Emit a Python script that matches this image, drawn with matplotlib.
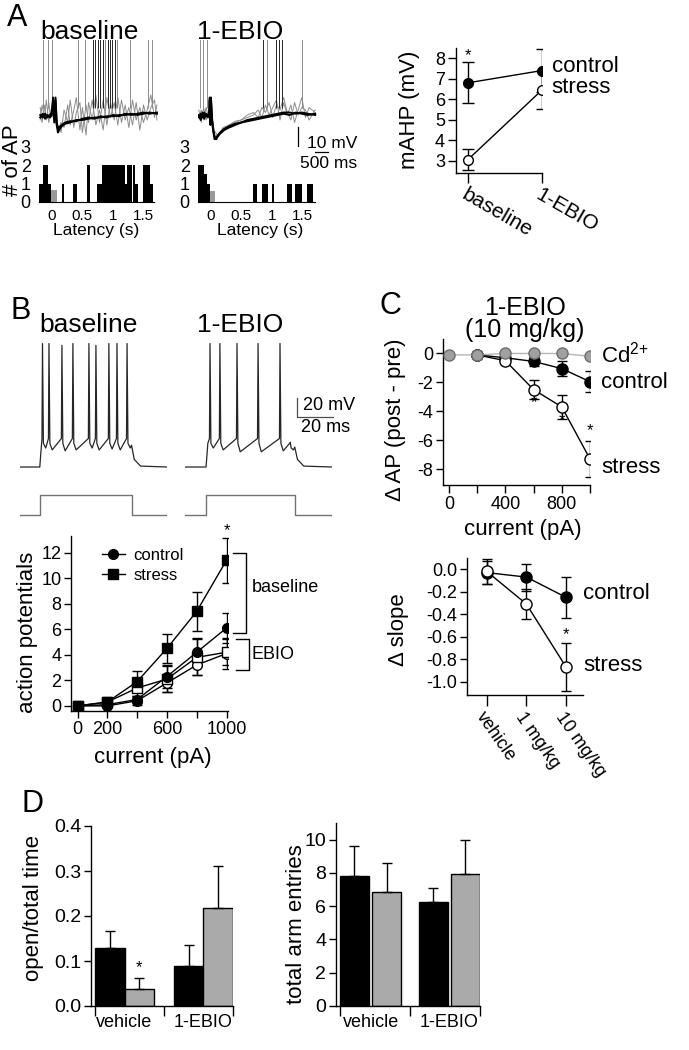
# Stress / 1-EBIO figure: firing, mAHP, slope and maze behaviour

import matplotlib
matplotlib.use('Agg')
import matplotlib.pyplot as plt
from matplotlib.lines import Line2D

plt.rcParams['font.family'] = ['Liberation Sans', 'DejaVu Sans']
plt.rcParams['axes.unicode_minus'] = False
plt.rcParams['mathtext.fontset'] = 'custom'
plt.rcParams['mathtext.rm'] = 'Liberation Sans'
plt.rcParams['axes.linewidth'] = 1.0

# ---------------- data ----------------
# A: AP latency histograms (bin edges in s, # of AP)
hist_base_edges = [-0.21, -0.14, -0.06, -0.01, 0.17, 0.20, 0.35, 0.42, 0.58, 0.63, 0.74, 0.82,
                   1.00, 1.01, 1.20, 1.23, 1.32, 1.33, 1.37, 1.41, 1.50, 1.61, 1.66]
hist_base_counts = [1, 2, 1, 0, 1, 0, 1, 0, 2, 0, 1, 2, 0, 2, 1, 2, 0, 2, 1, 0, 2, 1]
hist_base_stim = ([-0.01, 0.09], [0.65])
hist_ebio_edges = [-0.21, -0.12, -0.07, -0.02, 0.69, 0.76, 0.84, 0.94, 1.00, 1.04, 1.25, 1.33,
                   1.38, 1.50, 1.58, 1.68]
hist_ebio_counts = [2, 1.5, 1, 0, 1, 0, 1, 0, 1, 0, 1, 0, 1, 0, 1]
hist_ebio_stim = ([-0.02, 0.07], [0.6])

# A: example sweeps (time s, mV from rest)
a_base_k_t = [-0.19, -0.15, -0.11, -0.07, -0.03, 0.0, 0.02, 0.04, 0.06, 0.08, 0.10, 0.12, 0.16, 0.22,
              0.30, 0.40, 0.50, 0.60, 0.70, 0.80, 0.90, 1.00, 1.10, 1.20, 1.30, 1.40, 1.50, 1.60, 1.72]
a_base_k1_v = [-1, 0.5, -1.5, 0, -1, 0, 7, -3, 7, -4, -7, -6, -4.5, -3.5, -3, -2, -2, -1.5, -1, -1,
               -0.5, -0.5, 0, 0, 0.5, 0, 0.5, 1, 0.5]
a_base_k2_v = [0, -1, 0.5, -1, 0, 1, 6, -2, 6, -3, -5.5, -5, -4, -3, -2.5, -2.5, -1.5, -1, -1.5, -0.5,
               -1, 0, -0.5, 0.5, 0, 0.5, 1, 0.5, 1]
a_base_g_t = [-0.19, -0.16, -0.12, -0.09, -0.05, -0.02, 0.0, 0.1, 0.15, 0.2, 0.26, 0.3, 0.36, 0.4,
              0.46, 0.5, 0.56, 0.6, 0.66, 0.72, 0.78, 0.84, 0.9, 0.96, 1.02, 1.08, 1.14, 1.2, 1.26,
              1.32, 1.38, 1.44, 1.5, 1.56, 1.62, 1.68, 1.72]
a_base_g1_v = [3, -3, 4, -2, 5, -1, 2, -6, -3, -5, 4, -4, 2, 7, -6, 3, -8, 5, -2, 8, -3, 6, -4, 5,
               -2, 7, -3, 4, -5, 6, -2, 3, -3, 2, 8, -1, 4]
a_base_g2_v = [-2, 4, -1, 6, -3, 2, 0, -4, -7, 2, -3, 6, -5, 1, 5, -7, 4, -3, 6, -4, 2, -6, 7, -1,
               5, -4, 6, -2, 3, -4, 5, -6, 4, -2, 3, 6, -2]
a_base_spikes_gray = [-0.14, -0.06, 0.0, 0.43, 0.55, 0.87, 1.07, 1.28, 1.58, 1.64]
a_base_spikes_black = [0.68, 0.71, 0.76, 0.79, 0.83, 0.92, 0.96, 0.99, 1.04]

a_ebio_k_t = [-0.20, -0.17, -0.14, -0.11, -0.08, -0.05, -0.03, -0.02, -0.01, 0.0, 0.02, 0.04, 0.07,
              0.10, 0.15, 0.22, 0.30, 0.40, 0.50, 0.60, 0.70, 0.80, 0.90, 1.00, 1.10, 1.20, 1.30,
              1.40, 1.50, 1.60, 1.72]
a_ebio_k1_v = [0, -2, 1, -1.5, 0.5, -1, 0, 7, -4, 6, -3, -7, -11, -9, -7.5, -6, -5, -4, -3, -2.5,
               -2, -1.5, -1, -0.5, 0, 0.5, 0, 1, 0.5, 0, 0.5]
a_ebio_k2_v = [-1, 0.5, -1, 1, -0.5, 0, 1, 6, -3, 7, -2, -6, -10, -8.5, -7, -5.5, -4.5, -3.5, -3, -2,
               -1.5, -1, -0.5, 0, 0.5, 1, 1, 0.5, 1, 0.5, 0]
a_ebio_g_t = [-0.20, -0.16, -0.12, -0.08, -0.04, 0.0, 0.05, 0.1, 0.2, 0.3, 0.4, 0.5, 0.6, 0.7, 0.78,
              0.84, 0.9, 0.96, 1.02, 1.08, 1.14, 1.2, 1.26, 1.32, 1.38, 1.44, 1.5, 1.56, 1.62, 1.72]
a_ebio_g1_v = [2, -3, 3, -2, 1, 4, -8, -9, -5, -4, -3, -2, -1, 0, 2, -1, 4, 0, 3, 6, -2, 5, 0, 4,
               -3, 2, 7, -1, 3, 1]
a_ebio_g2_v = [-1, 2, -2, 3, -1, 2, -6, -8, -6, -4, -2.5, -2, 0, 1, -1, 3, 1, 5, -1, 4, 2, 7, 1,
               -2, 5, 0, 3, 2, -2, 2]
a_ebio_spikes_gray = [-0.18, -0.13, -0.07, 0.92, 1.5]
a_ebio_spikes_black = [0.86, 1.07, 1.12, 1.17]

# A: mAHP
mahp_conds = ['baseline', '1-EBIO']
mahp_ctrl = [6.8, 7.4]
mahp_ctrl_err = [1.0, 1.05]
mahp_stress = [3.05, 6.45]
mahp_stress_err = [0.5, 0.95]

# B: current-step traces (ms, mV)
b_base_spikes = [12.5, 16.1, 23.3, 29.4, 38.3, 42.2, 49.4, 53.9, 59.5]
b_base_peaks = [60, 60, 58, 60, 60, 58, 60, 60, 60]
b_base_troughs = [-50, -52, -53, -52, -50, -52, -51, -52, -50]
b_ebio_spikes = [13.9, 19.4, 28.9, 40.6, 52.8, 58.5]
b_ebio_peaks = [60, 60, 60, 60, 60, -44]
b_ebio_troughs = [-50, -52, -54, -54, -53, -52]
b_base_step = (11.0, 62.0)
b_ebio_step = (11.7, 61.0)
b_trace_end = 81.7

# B: action potentials vs current
currents = [0, 200, 400, 600, 800, 1000]
ap_ctrl_base = [0, 0.1, 0.5, 2.3, 4.2, 6.1]
ap_ctrl_base_err = [0, 0.1, 0.3, 0.9, 1.1, 1.15]
ap_str_base = [0, 0.3, 1.9, 4.5, 7.4, 11.4]
ap_str_base_err = [0, 0.2, 0.8, 1.15, 1.55, 1.75]
ap_ctrl_ebio = [0, 0.0, 0.4, 1.8, 3.2, 4.1]
ap_ctrl_ebio_err = [0, 0.1, 0.3, 0.7, 0.8, 1.2]
ap_str_ebio = [0, 0.3, 1.4, 2.1, 3.8, 4.2]
ap_str_ebio_err = [0, 0.2, 0.6, 1.0, 1.4, 1.0]

# C: change in AP after 1-EBIO
cd_currents = [0, 200, 400, 600, 800, 1000]
dap_cd = [-0.1, -0.1, 0.0, 0.0, 0.0, -0.2]
dap_currents = [200, 400, 600, 800, 1000]
dap_ctrl = [-0.1, -0.3, -0.55, -1.05, -1.95]
dap_ctrl_err = [0, 0.1, 0.3, 0.5, 0.75]
dap_stress = [-0.1, -0.5, -2.5, -3.7, -7.3]
dap_stress_err = [0, 0.15, 0.65, 0.85, 1.25]

# C: change in slope vs dose
doses = ['vehicle', '1 mg/kg', '10 mg/kg']
slope_ctrl = [-0.03, -0.07, -0.25]
slope_ctrl_err = [0.1, 0.12, 0.18]
slope_stress = [-0.02, -0.31, -0.87]
slope_stress_err = [0.11, 0.13, 0.21]

# D: elevated plus maze
groups = ['vehicle', '1-EBIO']
time_ctrl = [0.129, 0.089]
time_ctrl_err = [0.037, 0.047]
time_stress = [0.037, 0.218]
time_stress_err = [0.025, 0.093]
entries_ctrl = [7.83, 6.24]
entries_ctrl_err = [1.77, 0.83]
entries_stress = [6.85, 7.93]
entries_stress_err = [1.72, 2.07]

# ---------------- helpers ----------------
W, H = 689, 1050
fig = plt.figure(figsize=(W / 100, H / 100), dpi=100)


def add_box(x0, y0, x1, y1):
    return fig.add_axes([x0 / W, 1 - y1 / H, (x1 - x0) / W, (y1 - y0) / H])


def ftext(x, y, s, size=16, **kw):
    kw.setdefault('ha', 'center')
    kw.setdefault('va', 'center')
    fig.text(x / W, 1 - y / H, s, fontsize=size, **kw)


def style(ax, size=13):
    for side in ['top', 'right']:
        ax.spines[side].set_visible(False)
    ax.tick_params(direction='out', length=5, width=1, labelsize=size, pad=2)


def step_trace(spikes, peaks, troughs, step, t_end, rest=-70, plateau=-45, thr=-40):
    onset, offset = step
    t = [0, onset, onset + 1.0]
    v = [rest, rest, plateau]
    for ts, pk, tr in zip(spikes, peaks, troughs):
        th = min(thr, pk - 1)
        t += [ts - 0.3, ts, ts + 0.5, ts + 1.8]
        v += [th, pk, th - 5, tr]
    t += [offset, offset + 1.5, offset + 5, t_end]
    v += [v[-1] + 3, rest + 8, rest + 1, rest]
    return t, v


# ---------------- panel A ----------------
ftext(17, 18, 'A', size=22)
ftext(90, 32, 'baseline', size=19)
ftext(240, 32, '1-EBIO', size=19)

for (x0, x1, xl, kt, kv, gt, gv, sg, sk) in [
        (39, 160, (-0.21, 1.77), a_base_k_t, [a_base_k1_v, a_base_k2_v], a_base_g_t,
         [a_base_g1_v, a_base_g2_v], a_base_spikes_gray, a_base_spikes_black),
        (198, 320, (-0.214, 1.80), a_ebio_k_t, [a_ebio_k1_v, a_ebio_k2_v], a_ebio_g_t,
         [a_ebio_g1_v, a_ebio_g2_v], a_ebio_spikes_gray, a_ebio_spikes_black)]:
    ax = add_box(x0, 40, x1, 140)
    ax.set_xlim(*xl)
    ax.set_ylim(-10, 30)
    ax.axis('off')
    for v in gv:
        ax.plot(gt, v, color='0.55', lw=0.7)
    ax.vlines(sg, 3, 35, color='0.55', lw=0.7)
    for v in kv:
        ax.plot(kt, v, color='k', lw=1.4)
    ax.vlines(sk, 3, 35, color='0.15', lw=0.7)
    if x0 > 100:
        ax.plot([1.43, 1.43, 1.93], [-4.8, -14.8, -14.8], color='k', lw=0.9, clip_on=False)

ftext(307, 144, '10 mV', size=12.5, ha='left')
ftext(300, 164, '500 ms', size=12.5, ha='left')

for (x0, x1, xl, edges, counts, stim, lab_x) in [
        (39, 154, (-0.21, 1.675), hist_base_edges, hist_base_counts, hist_base_stim, 96),
        (198, 315, (-0.214, 1.71), hist_ebio_edges, hist_ebio_counts, hist_ebio_stim, 260)]:
    ax = add_box(x0, 147, x1, 202)
    ax.stairs(counts, edges, fill=True, color='k')
    ax.stairs(stim[1], stim[0], fill=True, color='#999999')
    ax.set_xlim(*xl)
    ax.set_ylim(0, 3)
    for side in ['top', 'right', 'left']:
        ax.spines[side].set_visible(False)
    ax.spines['bottom'].set_linewidth(0.8)
    ax.set_yticks([0, 1, 2, 3])
    ax.set_xticks([0, 0.5, 1, 1.5])
    ax.set_xticklabels(['0', '0.5', '1', '1.5'])
    ax.tick_params(axis='y', length=0, labelsize=13, pad=6)
    ax.tick_params(axis='x', length=0, labelsize=11, pad=5)
    ftext(lab_x, 230, 'Latency (s)', size=12.5)
ftext(12, 160, '# of AP', size=16, rotation=90)

ax = add_box(456, 48, 542, 173)
style(ax)
x_cond = list(range(len(mahp_conds)))
ax.errorbar(x_cond, mahp_ctrl, yerr=mahp_ctrl_err, fmt='-o', color='k', mfc='k', mec='k',
            ms=7, lw=1, elinewidth=1, capsize=4)
ax.errorbar(x_cond, mahp_stress, yerr=mahp_stress_err, fmt='-o', color='k', mfc='white', mec='k',
            ms=7, lw=1, elinewidth=1, capsize=4)
ax.set_xlim(-0.16, 1.0)
ax.set_ylim(2.4, 8.5)
ax.set_yticks(range(3, 9))
ax.set_xticks(x_cond)
ax.set_xticklabels(mahp_conds, rotation=-30, ha='left', va='top', rotation_mode='anchor')
ax.tick_params(axis='x', length=7, labelsize=15)
ax.tick_params(axis='y', length=6)
ax.text(0, 8.15, '*', ha='center', va='center', fontsize=12)
ax.text(1.13, 7.58, 'control', ha='left', va='center', fontsize=16)
ax.text(1.13, 6.56, 'stress', ha='left', va='center', fontsize=16)
ftext(410, 110, 'mAHP (mV)', size=16, rotation=90)

# ---------------- panel B ----------------
ftext(21, 311, 'B', size=22)
ftext(89, 325, 'baseline', size=19)
ftext(240, 325, '1-EBIO', size=19)

for (x0, spikes, peaks, troughs, step) in [
        (20, b_base_spikes, b_base_peaks, b_base_troughs, b_base_step),
        (185, b_ebio_spikes, b_ebio_peaks, b_ebio_troughs, b_ebio_step)]:
    ax = add_box(x0, 330, x0 + 147, 475)
    t, v = step_trace(spikes, peaks, troughs, step, b_trace_end)
    ax.plot(t, v, color='0.15', lw=0.9)
    ax.set_xlim(0, b_trace_end)
    ax.set_ylim(-78.4, 74.2)
    ax.axis('off')
    if x0 > 100:
        ax.plot([62.2, 62.2, 82.2], [2.6, -17.4, -17.4], color='0.3', lw=0.9, clip_on=False)
    ax2 = add_box(x0, 488, x0 + 147, 520)
    ax2.plot([0, step[0], step[0], step[1], step[1], b_trace_end], [0, 0, 1, 1, 0, 0],
             color='0.45', lw=1)
    ax2.set_xlim(0, b_trace_end)
    ax2.set_ylim(-0.25, 1.35)
    ax2.axis('off')
ftext(303, 405, '20 mV', size=13, ha='left')
ftext(301, 427, '20 ms', size=13, ha='left')

ax = add_box(71, 536, 228, 711)
style(ax)
kw = dict(color='k', mec='k', ms=7, lw=1, elinewidth=1, capsize=3.5)
ax.errorbar(currents, ap_ctrl_ebio, yerr=ap_ctrl_ebio_err, fmt='-o', mfc='white', **kw)
ax.errorbar(currents, ap_str_ebio, yerr=ap_str_ebio_err, fmt='-s', mfc='white', **kw)
ax.errorbar(currents, ap_ctrl_base, yerr=ap_ctrl_base_err, fmt='-o', mfc='k', **kw)
ax.errorbar(currents, ap_str_base, yerr=ap_str_base_err, fmt='-s', mfc='k', **kw)
ax.set_xlim(-44, 1010)
ax.set_ylim(-0.4, 13.3)
ax.set_yticks(range(0, 13, 2))
ax.set_xticks(currents)
ax.set_xticklabels(['0', '200', '', '600', '', '1000'])
handles = [Line2D([], [], color='k', marker='o', ms=7, lw=1),
           Line2D([], [], color='k', marker='s', ms=7, lw=1)]
ax.legend(handles, ['control', 'stress'], loc='upper left', bbox_to_anchor=(0.1, 1.02),
          frameon=False, fontsize=12, handlelength=1.4, handletextpad=0.5, labelspacing=0.3)
ax.plot([1044, 1131, 1131, 1044], [12.0, 12.0, 5.7, 5.7], color='k', lw=1, clip_on=False)
ax.plot([1067, 1148, 1148, 1067], [5.2, 5.2, 2.8, 2.8], color='k', lw=1, clip_on=False)
ax.text(1171, 9.25, 'baseline', ha='left', va='center', fontsize=13)
ax.text(1171, 4.0, 'EBIO', ha='left', va='center', fontsize=13)
ax.text(1000, 13.7, '*', ha='center', va='center', fontsize=12)
ftext(28, 632, 'action potentials', size=16, rotation=90)
ftext(153, 757, 'current (pA)', size=16)

# ---------------- panel C ----------------
ftext(390, 306, 'C', size=22)
ftext(525, 308, '1-EBIO', size=18)
ftext(525, 330, '(10 mg/kg)', size=18)

ax = add_box(443, 339, 590, 485)
style(ax)
kw = dict(color='k', mec='k', ms=8, lw=1, elinewidth=1, capsize=3.5)
ax.errorbar(dap_currents, dap_ctrl, yerr=dap_ctrl_err, fmt='-o', mfc='k', **kw)
ax.errorbar(dap_currents, dap_stress, yerr=dap_stress_err, fmt='-o', mfc='white', **kw)
ax.plot(cd_currents, dap_cd, '-o', color='#b4b4b4', mfc='#a0a0a0', mec='#6e6e6e', ms=8, lw=1,
        zorder=5)
ax.set_xlim(-42, 1000)
ax.set_ylim(-9.1, 1.0)
ax.set_yticks([0, -2, -4, -6, -8])
ax.set_xticks(cd_currents)
ax.set_xticklabels(['0', '', '400', '', '800', ''])
ax.tick_params(axis='x', length=6)
for cx, cy in [(600, -3.4), (800, -4.65), (1000, -5.35)]:
    ax.text(cx, cy, '*', ha='center', va='center', fontsize=12)
ax.text(1081, -0.07, 'Cd$^{2{+}}$', ha='left', va='center', fontsize=16)
ax.text(1081, -2.0, 'control', ha='left', va='center', fontsize=16)
ax.text(1081, -7.86, 'stress', ha='left', va='center', fontsize=16)
ftext(395, 420, '\u0394 AP (post - pre)', size=16, rotation=90)
ftext(523, 530, 'current (pA)', size=16)

ax = add_box(467, 558, 583, 695)
style(ax)
x_dose = list(range(len(doses)))
ax.errorbar(x_dose, slope_ctrl, yerr=slope_ctrl_err, fmt='-o', mfc='k', **kw)
ax.errorbar(x_dose, slope_stress, yerr=slope_stress_err, fmt='-o', mfc='white', **kw)
ax.set_xlim(-0.5, 2.43)
ax.set_ylim(-1.12, 0.1)
ax.set_yticks([0.0, -0.2, -0.4, -0.6, -0.8, -1.0])
ax.set_yticklabels(['%.1f' % v for v in [0.0, -0.2, -0.4, -0.6, -0.8, -1.0]])
ax.set_xticks(x_dose)
ax.set_xticklabels(doses, rotation=-55, ha='left', va='top', rotation_mode='anchor')
ax.tick_params(axis='x', length=8, labelsize=13)
ax.text(2, -0.58, '*', ha='center', va='center', fontsize=12)
ax.text(2.43, -0.22, 'control', ha='left', va='center', fontsize=16)
ax.text(2.43, -0.86, 'stress', ha='left', va='center', fontsize=16)
ftext(398, 630, '\u0394 slope', size=16, rotation=90)

# ---------------- panel D ----------------
ftext(33, 804, 'D', size=22)

for (x0, x1, y0, ctrl, ctrl_err, stress, stress_err, width, off, ylim, yticks, fmt, ylab, lab_x,
     lab_y) in [
        (91, 233, 826, time_ctrl, time_ctrl_err, time_stress, time_stress_err, 0.375, 0.1875,
         (0, 0.4), [0, 0.1, 0.2, 0.3, 0.4], '%.1f', 'open/total time', 34, 908),
        (336, 480, 823, entries_ctrl, entries_ctrl_err, entries_stress, entries_stress_err, 0.37,
         0.205, (0, 11), [0, 2, 4, 6, 8, 10], '%d', 'total arm entries', 296, 924)]:
    ax = add_box(x0, y0, x1, 1006)
    style(ax)
    xg = list(range(len(groups)))
    ax.bar([g - off for g in xg], ctrl, width, color='k', edgecolor='k', lw=1,
           yerr=[[0] * len(ctrl), ctrl_err], capsize=3.5, error_kw=dict(elinewidth=1, capthick=1))
    ax.bar([g + off for g in xg], stress, width, color='#aaaaaa', edgecolor='k', lw=1,
           yerr=[[0] * len(stress), stress_err], capsize=3.5,
           error_kw=dict(elinewidth=1, capthick=1))
    edge = off + width / 2
    ax.set_xlim(-edge - 0.05, 1 + edge)
    ax.set_ylim(*ylim)
    ax.set_yticks(yticks)
    ax.set_yticklabels([fmt % v for v in yticks])
    ax.set_xticks(xg)
    ax.set_xticklabels(groups)
    ax.set_xticks([-edge, 0.5, 1 + edge], minor=True)
    ax.tick_params(axis='x', which='major', length=0, pad=6, labelsize=13)
    ax.tick_params(axis='x', which='minor', length=7, width=1, direction='out')
    ax.tick_params(axis='y', labelsize=14)
    ftext(lab_x, lab_y, ylab, size=16, rotation=90)
    if ylim[1] < 1:
        ax.text(off, 0.086, '*', ha='center', va='center', fontsize=12)

fig.savefig('out.png', dpi=100)
